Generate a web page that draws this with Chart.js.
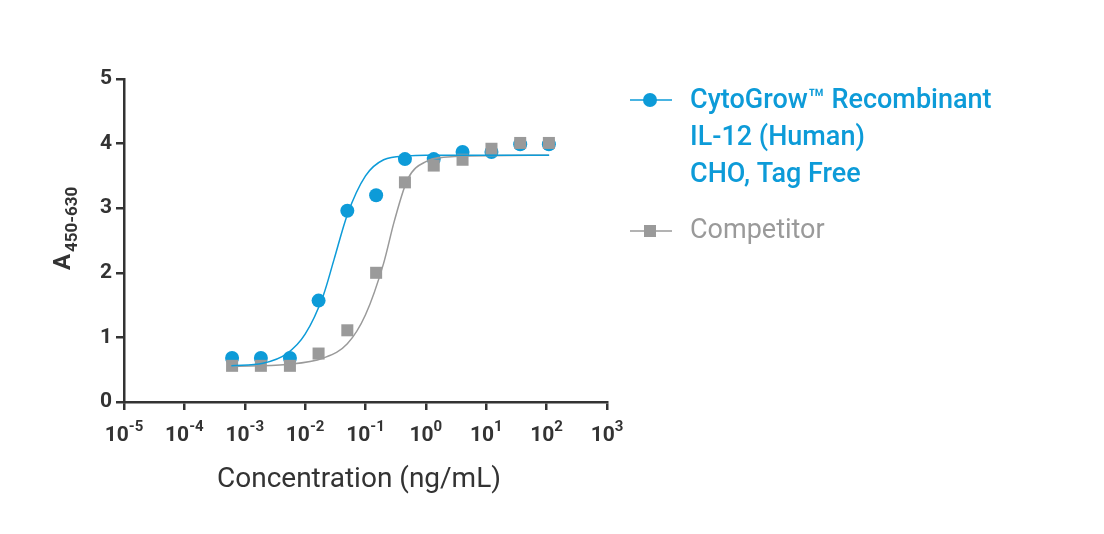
<!DOCTYPE html>
<html><head><meta charset="utf-8">
<script src="https://cdn.jsdelivr.net/npm/chart.js@4/dist/chart.umd.min.js"></script>
<style>body{margin:0;background:#fff}#w{position:relative;width:1104px;height:534px}canvas{position:absolute;left:0;top:0}</style>
</head><body><div id="w"><canvas id="c" width="1104" height="534"></canvas></div>
<script>
const concentrations=[0.000617,0.00185,0.0056,0.0167,0.05,0.15,0.45,1.35,4.05,12.2,36.5,109];
const cytoValues=[0.68,0.68,0.68,1.57,2.96,3.2,3.76,3.76,3.87,3.87,3.99,3.99];
const compValues=[0.56,0.56,0.56,0.75,1.11,2.0,3.4,3.66,3.75,3.92,4.01,4.01];
const cytoCurveX=[0.0006,0.002,0.005,0.01,0.02,0.03,0.05,0.1,0.2,0.5,1,110];
const cytoCurveY=[0.56,0.6,0.75,1.05,1.65,2.2,2.9,3.5,3.75,3.81,3.82,3.82];
const compCurveX=[0.0006,0.005,0.02,0.05,0.1,0.2,0.3,0.5,1,3,110];
const compCurveY=[0.55,0.58,0.68,0.9,1.35,2.15,2.8,3.45,3.72,3.8,3.82];
const xTickExps=['-5','-4','-3','-2','-1','0','1','2','3'];
const BLUE='#0d9bd8',GRAY='#9a9a9a',AX='#333';
const pts=(xs,ys)=>xs.map((x,i)=>({x,y:ys[i]}));
const txt={id:'txt',afterDraw(ch){const c=ch.ctx;c.save();
 c.fillStyle='#333';c.font='28px Roboto';c.textAlign='center';c.textBaseline='middle';
 c.fillText('Concentration (ng/mL)',359,480);
 const xs=ch.scales.x;c.font='bold 21px Roboto';
 xTickExps.forEach((e,i)=>{const px=xs.getPixelForValue(Math.pow(10,i-5));
  c.font='bold 21px Roboto';const w1=c.measureText('10').width;c.font='bold 15px Roboto';const w2=c.measureText(e).width;
  const x0=px-(w1+w2)/2;c.textAlign='left';c.font='bold 21px Roboto';c.fillText('10',x0,436);
  c.font='bold 15px Roboto';c.fillText(e,x0+w1,427);});
 c.translate(64,242);c.rotate(-Math.PI/2);c.font='bold 24px Roboto';c.textAlign='left';
 c.fillText('A',-28,0);c.font='bold 17px Roboto';c.fillText('450-630',-10,9);c.restore();
 c.save();c.textBaseline='middle';c.font='500 27px Roboto';
 c.strokeStyle=BLUE;c.lineWidth=1.5;c.beginPath();c.moveTo(630,100);c.lineTo(672,100);c.stroke();
 c.fillStyle=BLUE;c.beginPath();c.arc(650,100,7,0,7);c.fill();
 ['CytoGrow™ Recombinant','IL-12 (Human)','CHO, Tag Free'].forEach((t,i)=>c.fillText(t,690,101+i*37));
 c.font='27px Roboto';
 c.strokeStyle=GRAY;c.beginPath();c.moveTo(630,231);c.lineTo(672,231);c.stroke();
 c.fillStyle=GRAY;c.fillRect(644,225,12,12);c.fillText('Competitor',690,231);c.restore();}};
new Chart(document.getElementById('c'),{type:'scatter',
 data:{datasets:[
  {data:pts(cytoCurveX,cytoCurveY),showLine:true,borderColor:BLUE,borderWidth:1.5,pointRadius:0,cubicInterpolationMode:'monotone'},
  {data:pts(compCurveX,compCurveY),showLine:true,borderColor:GRAY,borderWidth:1.5,pointRadius:0,cubicInterpolationMode:'monotone'},
  {data:pts(concentrations,compValues),pointStyle:'rect',pointRadius:8.5,backgroundColor:GRAY,borderWidth:0},
  {data:pts(concentrations,cytoValues),pointStyle:'circle',pointRadius:7,backgroundColor:BLUE,borderWidth:0}]},
 options:{responsive:false,animation:false,layout:{padding:{left:0,top:79,right:497,bottom:0}},
  plugins:{legend:{display:false},tooltip:{enabled:false}},
  scales:{
   x:{type:'logarithmic',min:1e-5,max:1e3,afterFit(s){s.height=132;},
    afterBuildTicks(s){s.ticks=xTickExps.map((_,i)=>({value:Math.pow(10,i-5)}));},
    border:{color:AX,width:2.5},grid:{drawOnChartArea:false,color:AX,lineWidth:2.5,tickLength:8},
    ticks:{display:true,color:'rgba(0,0,0,0)',font:{family:'Roboto',size:21,weight:'bold'},maxRotation:0,autoSkip:false,padding:4,
     callback:()=>'10'}},
   y:{min:0,max:5,afterFit(s){s.width=124;},
    border:{color:AX,width:2.5},grid:{drawOnChartArea:false,color:AX,lineWidth:2.5,tickLength:8},
    ticks:{stepSize:1,color:AX,font:{family:'Roboto',size:21,weight:'bold'},padding:4}}}},
 plugins:[txt]});
</script></body></html>
